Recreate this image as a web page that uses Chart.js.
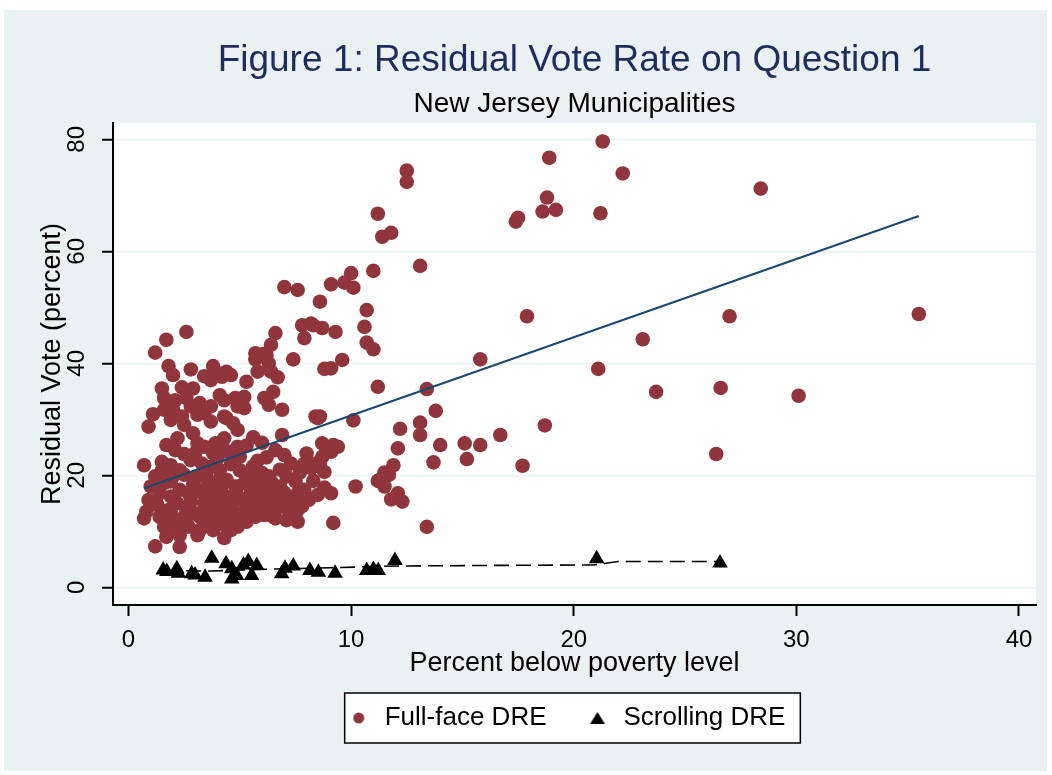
<!DOCTYPE html>
<html><head><meta charset="utf-8">
<script src="https://cdn.jsdelivr.net/npm/chart.js@4"></script>
<style>html,body{margin:0;padding:0;background:#fff;}canvas{display:block;}</style>
</head><body>
<canvas id="c" width="1052" height="775"></canvas>
<script>
const xTickValues=[0,10,20,30,40];
const yTickValues=[0,20,40,60,80];
const seriesNames=['Full-face DRE','Scrolling DRE'];
const fullFace=[[21.3,79.6],[18.9,76.7],[22.2,73.9],[12.5,74.4],[12.5,72.4],[18.8,69.6],[18.6,67.1],[19.2,67.4],[21.2,66.8],[17.5,66.0],[17.4,65.3],[11.2,66.7],[11.4,62.6],[11.8,63.3],[13.1,57.4],[17.9,48.4],[23.1,44.3],[21.1,39.0],[23.7,34.9],[15.8,40.7],[13.4,35.4],[13.8,31.5],[13.1,29.4],[13.1,27.2],[12.2,28.3],[12.1,24.8],[14.0,25.4],[15.1,25.7],[15.8,25.4],[16.7,27.2],[18.7,28.9],[13.7,22.3],[15.2,22.9],[17.7,21.7],[11.9,21.8],[11.5,20.5],[11.2,19.0],[11.5,18.0],[12.1,16.8],[10.2,18.0],[9.1,16.8],[11.2,35.8],[11.0,42.5],[10.7,43.7],[10.6,46.5],[10.7,49.5],[9.3,45.6],[9.6,40.6],[10.0,56.1],[9.7,54.4],[10.1,53.5],[11.0,56.5],[9.1,54.1],[9.4,25.1],[9.2,25.4],[9.1,39.1],[28.4,71.2],[27.0,48.4],[35.5,48.8],[26.6,35.6],[30.1,34.2],[26.4,23.8],[8.7,46.3],[8.8,39.0],[8.6,30.5],[10.1,29.8],[9.1,24.2],[8.6,22.1],[8.8,20.6],[11.7,20.1],[11.3,19.2],[11.8,15.7],[12.3,15.3],[9.2,11.5],[13.4,10.8],[8.6,51.0],[7.8,46.8],[8.3,46.8],[7.9,44.5],[6.6,45.4],[6.4,43.3],[6.1,41.7],[5.7,41.8],[5.7,40.7],[7.4,40.7],[6.3,40.0],[5.8,38.5],[6.4,38.5],[6.7,37.5],[5.3,36.7],[4.6,37.9],[4.4,38.5],[6.5,34.9],[6.1,33.8],[6.3,32.6],[5.2,34.0],[4.8,33.8],[5.2,32.0],[4.9,32.3],[6.9,31.7],[8.4,30.5],[8.5,30.2],[4.4,30.2],[4.7,29.3],[4.9,28.1],[5.6,26.8],[6.9,27.2],[4.9,25.1],[5.0,23.3],[4.5,24.2],[5.8,22.6],[7.0,23.6],[7.3,22.1],[8.0,23.9],[7.9,22.1],[8.4,22.1],[8.2,21.3],[8.7,25.7],[8.7,23.3],[8.6,21.5],[5.0,20.9],[5.5,20.4],[6.0,20.4],[6.4,18.9],[5.7,18.6],[5.2,18.6],[7.1,19.8],[7.5,18.9],[7.9,17.4],[8.1,15.6],[7.6,16.8],[7.3,15.6],[6.9,15.3],[6.7,16.2],[6.1,16.8],[6.4,15.6],[5.8,15.6],[5.5,16.8],[4.8,18.0],[7.6,11.7],[7.3,13.2],[6.6,12.3],[6.1,13.2],[5.7,12.6],[4.9,13.2],[4.5,12.6],[4.6,10.2],[4.3,8.8],[4.9,10.8],[5.3,11.7],[6.4,13.8],[6.0,14.4],[2.6,45.6],[1.7,44.2],[1.2,41.9],[1.8,39.5],[2.0,37.9],[2.8,38.9],[3.4,37.7],[3.8,39.5],[4.0,38.2],[3.7,37.0],[4.2,37.6],[1.5,35.5],[2.4,35.7],[2.9,35.5],[1.6,33.8],[2.1,33.4],[2.6,33.8],[2.8,32.3],[3.2,32.9],[3.7,32.3],[4.1,34.3],[4.3,33.4],[1.1,30.9],[1.6,31.7],[2.0,31.7],[2.4,30.5],[1.9,29.9],[0.9,28.7],[2.5,29.0],[3.1,30.8],[3.4,31.1],[3.7,29.6],[4.3,30.5],[1.7,25.4],[2.2,26.6],[2.9,27.5],[3.1,25.7],[3.4,25.1],[3.9,25.7],[4.3,26.6],[4.3,24.5],[3.8,23.9],[0.7,21.8],[1.5,22.4],[1.9,21.8],[2.3,20.9],[2.8,22.7],[3.3,22.1],[3.7,21.5],[4.1,20.9],[1.2,19.8],[1.0,18.0],[1.6,18.6],[2.0,19.8],[2.5,20.1],[3.0,19.5],[3.5,19.8],[4.0,18.9],[4.4,19.2],[0.9,15.6],[0.8,13.5],[1.4,16.8],[1.9,16.2],[1.3,14.7],[1.8,13.8],[2.3,17.4],[2.7,16.8],[3.1,17.1],[3.6,16.8],[4.0,17.4],[4.4,16.2],[2.2,15.0],[2.8,15.3],[3.4,15.0],[3.8,15.3],[4.3,14.4],[0.7,12.3],[1.4,12.6],[1.9,13.2],[2.5,12.6],[3.0,13.2],[3.5,12.6],[4.1,12.6],[1.6,10.8],[2.2,10.2],[2.7,10.8],[3.2,10.2],[3.7,10.8],[4.3,11.1],[1.7,9.0],[2.3,9.3],[3.1,9.3],[1.2,7.3],[2.3,7.2],[6.8,18.0],[7.3,15.9],[7.6,13.8],[8.0,15.6],[6.9,14.4],[6.2,16.8],[5.8,19.2],[5.2,20.4],[4.9,18.0],[4.1,15.3],[3.7,13.8],[3.2,12.6],[2.6,11.4],[3.8,10.2],[4.6,11.4],[5.0,12.9],[5.5,14.4],[6.1,12.9],[6.5,12.6],[7.1,12.0],[7.0,53.6],[7.6,53.1],[8.2,47.1],[6.2,41.5],[3.5,17.9],[4.2,18.2],[5.0,16.0],[5.3,15.0],[5.9,17.5],[6.6,17.3],[7.0,16.9],[7.8,14.5],[6.3,19.8],[6.8,21.0],[5.6,21.6],[4.6,22.0],[4.0,23.0],[3.0,24.0],[2.5,23.8],[2.1,24.5],[6.2,23.2],[6.6,24.5],[5.3,25.3],[6.0,25.8],[7.7,20.5],[8.3,19.0],[8.8,17.8],[8.5,16.5],[2.9,18.3],[1.9,18.9],[1.5,20.9],[3.4,20.6],[2.6,14.0],[3.5,14.0],[4.7,15.0],[5.6,13.4],[4.8,16.6],[2.0,11.9],[3.4,11.4],[4.0,11.8]];
const scrolling=[[1.56,3.1],[1.72,2.8],[2.17,3.3],[2.24,2.5],[2.84,2.4],[2.99,2.2],[3.44,1.8],[3.74,5.2],[4.38,4.2],[4.64,3.3],[4.64,1.5],[4.86,2.1],[5.16,4.0],[5.38,4.6],[5.53,2.1],[5.76,3.9],[6.88,2.4],[7.03,3.4],[7.40,3.8],[8.15,3.0],[8.53,2.7],[9.28,2.5],[10.70,3.0],[11.0,3.2],[11.22,3.0],[11.97,4.8],[21.03,5.1],[26.57,4.35]];
const fitFullX=[0.7,35.5];
const fitFullY=[17.7,66.3];
const fitScrollX=[1.6,3.7,5.9,9.1,12.0,16.0,20.9,22.0,26.6];
const fitScrollY=[3.0,2.9,3.2,3.5,3.8,3.9,4.0,4.6,4.6];

const FONT='"Liberation Sans", Arial, Helvetica, sans-serif';
const BG='#E9F1F3';
const RED='#90353B';

function legendSymbol(kind){
  const c=document.createElement('canvas');
  if(kind==='circle'){
    c.width=12;c.height=12;const g=c.getContext('2d');
    g.fillStyle=RED;g.beginPath();g.arc(6,6,5.5,0,Math.PI*2);g.fill();
  } else {
    c.width=16;c.height=14;const g=c.getContext('2d');
    g.fillStyle='#000';g.beginPath();g.moveTo(8,1);g.lineTo(15.5,13);g.lineTo(0.5,13);g.closePath();g.fill();
  }
  return c;
}
const legendSymbols=[legendSymbol('circle'),legendSymbol('triangle')];

const bgPlugin={
  id:'bg',
  afterLayout(chart){ if(chart.legend){ chart.legend.left-=9; chart.legend.right-=9; } },
  beforeDraw(chart){
    const ctx=chart.ctx; ctx.save();
    ctx.fillStyle=BG; ctx.fillRect(4,10,1043,761);
    const a=chart.chartArea; ctx.fillStyle='#fff';
    ctx.fillRect(a.left,a.top,a.right-a.left,a.bottom-a.top);
    const hb=chart.legend&&chart.legend.legendHitBoxes;
    if(hb&&hb.length){
      const l=hb[0].left-1, r=hb[hb.length-1].left+hb[hb.length-1].width+15;
      const cy=hb[0].top+hb[0].height/2;
      ctx.fillStyle='#fff'; ctx.fillRect(l,cy-25,r-l,50);
      ctx.strokeStyle='#000'; ctx.lineWidth=1.5; ctx.strokeRect(l,cy-25,r-l,50);
    }
    ctx.restore();
  }
};
const toPts=(xs,ys)=>xs.map((x,i)=>({x,y:ys[i]}));
new Chart(document.getElementById('c'),{
  type:'scatter',
  data:{datasets:[
    {type:'line',label:'fit1',data:toPts(fitFullX,fitFullY),borderColor:'#1A476F',borderWidth:2,pointRadius:0,showLine:true,fill:false,tension:0},
    {type:'line',label:'fit2',data:toPts(fitScrollX,fitScrollY),borderColor:'#000',borderWidth:1.6,borderDash:[15,7],pointRadius:0,showLine:true,fill:false,tension:0},
    {label:seriesNames[0],data:fullFace.map(([x,y])=>({x,y})),pointStyle:'circle',pointRadius:7.3,pointHoverRadius:7.3,backgroundColor:RED,borderColor:RED,borderWidth:0},
    {label:seriesNames[1],data:scrolling.map(([x,y])=>({x,y})),pointStyle:'triangle',pointRadius:9,pointHoverRadius:9,backgroundColor:'#000',borderColor:'#000',borderWidth:0}
  ]},
  options:{
    responsive:false,animation:false,devicePixelRatio:1,
    layout:{padding:{top:10,left:0,right:16,bottom:34}},
    plugins:{
      title:{display:true,fullSize:false,text:'Figure 1: Residual Vote Rate on Question 1',color:'#1E2D5B',font:{family:FONT,size:37,weight:'normal'},padding:{top:29,bottom:0}},
      subtitle:{display:true,fullSize:false,text:'New Jersey Municipalities',color:'#000',font:{family:FONT,size:28,weight:'normal'},padding:{top:4,bottom:2}},
      legend:{display:true,position:'bottom',fullSize:false,labels:{
        filter:(it)=>it.datasetIndex>=2,
        generateLabels:(chart)=>{
          const items=Chart.defaults.plugins.legend.labels.generateLabels(chart);
          items.forEach(it=>{ if(it.datasetIndex>=2){ it.pointStyle=legendSymbols[it.datasetIndex-2]; } });
          return items;
        },
        usePointStyle:true,boxWidth:26,boxHeight:10,padding:38,color:'#000',font:{family:FONT,size:26}}},
      tooltip:{enabled:false}
    },
    scales:{
      x:{type:'linear',min:-0.696,max:40.764,
        afterBuildTicks:s=>{s.ticks=xTickValues.map(v=>({value:v}));},
        afterFit:s=>{s.height=62;},
        grid:{drawOnChartArea:false,drawTicks:true,tickLength:11,tickColor:'#000',tickWidth:2},
        border:{display:true,color:'#000',width:2},
        ticks:{color:'#000',font:{family:FONT,size:24},padding:10,maxRotation:0,autoSkip:false},
        title:{display:true,text:'Percent below poverty level',color:'#000',font:{family:FONT,size:27},padding:{top:0,bottom:-13}}},
      y:{type:'linear',min:-3.16,max:82.91,
        afterBuildTicks:s=>{s.ticks=yTickValues.map(v=>({value:v}));},
        afterFit:s=>{s.width=113;},
        grid:{color:BG,lineWidth:1.5,drawTicks:true,tickLength:11,tickColor:'#000',tickWidth:2},
        border:{display:true,color:'#000',width:2},
        ticks:{color:'#000',font:{family:FONT,size:24},padding:11,minRotation:90,maxRotation:90,crossAlign:'center',autoSkip:false},
        title:{display:true,text:'Residual Vote (percent)',color:'#000',font:{family:FONT,size:27},padding:{top:36,bottom:0}}}
    }
  },
  plugins:[bgPlugin]
});
</script>
</body></html>
